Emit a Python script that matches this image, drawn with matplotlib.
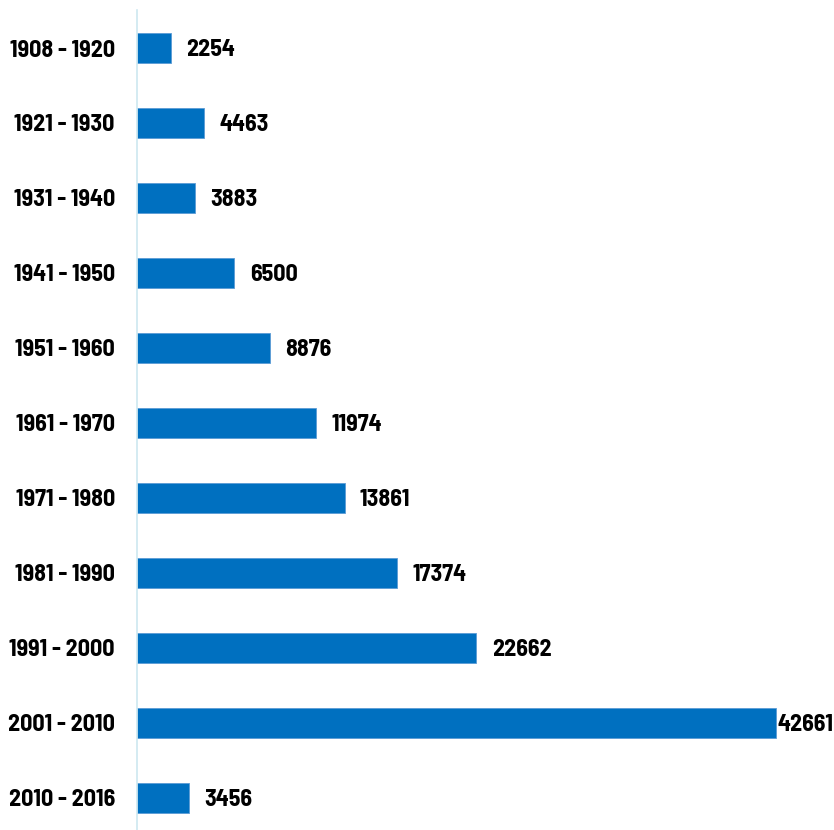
import matplotlib
matplotlib.use("Agg")
import matplotlib.pyplot as plt
from matplotlib import font_manager

categories = ["1908 - 1920", "1921 - 1930", "1931 - 1940", "1941 - 1950", "1951 - 1960",
              "1961 - 1970", "1971 - 1980", "1981 - 1990", "1991 - 2000", "2001 - 2010",
              "2010 - 2016"]
values = [2254, 4463, 3883, 6500, 8876, 11974, 13861, 17374, 22662, 42661, 3456]

names = {f.name for f in font_manager.fontManager.ttflist}
fam, fsize = "Liberation Sans", 14.5
for cand, size in [("Liberation Sans Narrow", 17.3), ("Arial Narrow", 17.3),
                   ("Barlow Semi Condensed", 17.3)]:
    if cand in names:
        fam, fsize = cand, size
        break

fig = plt.figure(figsize=(8.34, 8.30), dpi=100)
ax = fig.add_axes([137/834, 0.0, 1 - 137/834, 820/830])
pos = list(range(len(categories)))
ax.barh(pos, values, height=0.4, color="#0070C0", edgecolor="#5B9BD5", linewidth=0.6)
ax.set_ylim(10.43, -0.507)
ax.set_xlim(0, 46530)
ax.set_yticks(pos)
ax.set_yticklabels(categories, fontfamily=fam, fontweight="bold", fontsize=fsize)
ax.tick_params(axis="y", length=0, pad=16)
ax.set_xticks([])
for s in ["top", "right", "bottom"]:
    ax.spines[s].set_visible(False)
ax.spines["left"].set_color("#CDE8F0")
ax.spines["left"].set_linewidth(1.2)
vmax = max(values)
for p, v in zip(pos, values):
    off = 1 if v == vmax else 11
    ax.annotate(str(v), (v, p), xytext=(off, -1.5), textcoords="offset points",
                va="center", ha="left", fontfamily=fam, fontweight="bold", fontsize=fsize)
fig.savefig("out.png", dpi=100)
